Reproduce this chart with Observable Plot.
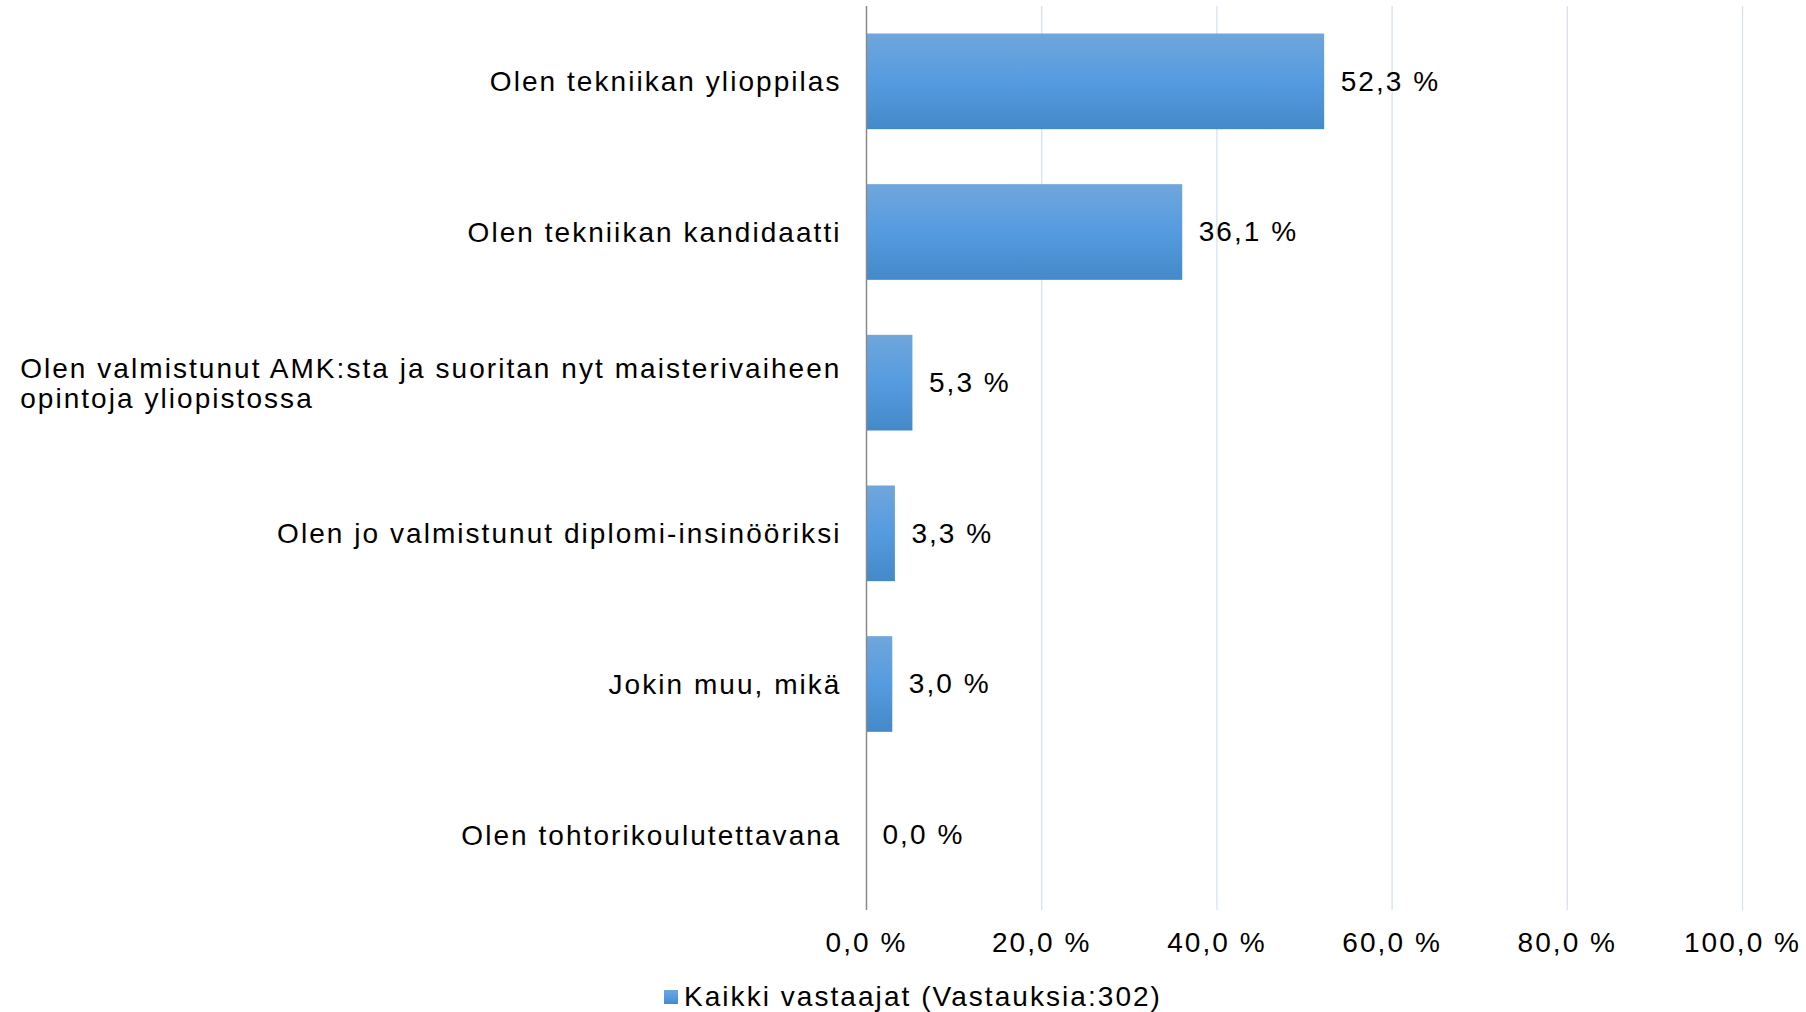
<!DOCTYPE html>
<html>
<head>
<meta charset="utf-8">
<script src="https://cdn.jsdelivr.net/npm/d3@7"></script>
<script src="https://cdn.jsdelivr.net/npm/@observablehq/plot@0.6"></script>
<style>
  html, body { margin: 0; padding: 0; background: #fff; }
  body { width: 1806px; height: 1012px; overflow: hidden; font-family: "Liberation Sans", Arial, sans-serif; }
  #chart svg { display: block; font-family: "Liberation Sans", Arial, sans-serif; }
  #chart svg text { letter-spacing: 2.05px; fill: #000; }
  #legend { height: 47px; box-sizing: border-box; padding-top: 17px; padding-left: 20px; display: flex; justify-content: center; align-items: center; }
  #legend .sw { width: 14px; height: 14px; background: linear-gradient(#6fa5db, #559be0 50%, #4489c8); margin-right: 6px; }
  #legend .lbl { font-size: 28px; letter-spacing: 2.05px; line-height: 30px; color: #000; }
</style>
</head>
<body>
<div id="chart"></div>
<div id="legend"><span class="sw"></span><span class="lbl"></span></div>
<script>
const categories = [
  "Olen tekniikan ylioppilas",
  "Olen tekniikan kandidaatti",
  "Olen valmistunut AMK:sta ja suoritan nyt maisterivaiheen\nopintoja yliopistossa",
  "Olen jo valmistunut diplomi-insinööriksi",
  "Jokin muu, mikä",
  "Olen tohtorikoulutettavana"
];
const values = [52.3, 36.1, 5.3, 3.3, 3.0, 0.0];
const xTicks = [0, 20, 40, 60, 80, 100];
const seriesName = "Kaikki vastaajat (Vastauksia:302)";

const data = categories.map((c, i) => ({category: c, value: values[i]}));
const fmt = d => d.toFixed(1).replace(".", ",") + " %";

const plot = Plot.plot({
  width: 1806,
  height: 965,
  marginTop: 6,
  marginBottom: 55,
  marginLeft: 866,
  marginRight: 64,
  style: {fontSize: "28px", fontFamily: "Liberation Sans, Arial, sans-serif", color: "#000"},
  x: {domain: [0, 100], ticks: xTicks},
  y: {domain: categories, paddingInner: 0.365, paddingOuter: 0.1825, round: false},
  marks: [
    Plot.gridX(xTicks.filter(d => d > 0), {stroke: "#d6e2f0", strokeOpacity: 1, strokeWidth: 1.3}),
    Plot.barX(data, {x: "value", y: "category", fill: "url(#barGrad)"}),
    Plot.ruleX([0], {stroke: "#8a8a8a", strokeWidth: 1.5}),
    Plot.text(data, {x: "value", y: "category", text: d => fmt(d.value), textAnchor: "start", dx: 16, fontSize: 28, fill: "#000"}),
    Plot.axisX(xTicks, {tickSize: 0, tickPadding: 22, tickFormat: fmt, fontSize: 28, label: null}),
    Plot.axisY({tickSize: 0, tickPadding: 25, fontSize: 28, label: null, lineHeight: 1.07})
  ]
});

// gradient definition for bars
const ns = "http://www.w3.org/2000/svg";
const defs = document.createElementNS(ns, "defs");
const grad = document.createElementNS(ns, "linearGradient");
grad.setAttribute("id", "barGrad");
grad.setAttribute("x1", "0"); grad.setAttribute("y1", "0");
grad.setAttribute("x2", "0"); grad.setAttribute("y2", "1");
[["0%", "#70a6dc"], ["50%", "#559be0"], ["100%", "#4489c8"]].forEach(([o, c]) => {
  const s = document.createElementNS(ns, "stop");
  s.setAttribute("offset", o); s.setAttribute("stop-color", c);
  grad.appendChild(s);
});
defs.appendChild(grad);
plot.insertBefore(defs, plot.firstChild);

document.getElementById("chart").appendChild(plot);

// left-align wrapped lines of multi-line category labels (block stays right-aligned)
plot.querySelectorAll("text").forEach(t => {
  const tsp = t.querySelectorAll("tspan");
  if (tsp.length > 1) {
    const bb = t.getBBox();
    t.setAttribute("text-anchor", "start");
    tsp.forEach(s => s.setAttribute("x", bb.x));
  }
});

document.querySelector("#legend .lbl").textContent = seriesName;
</script>
</body>
</html>
